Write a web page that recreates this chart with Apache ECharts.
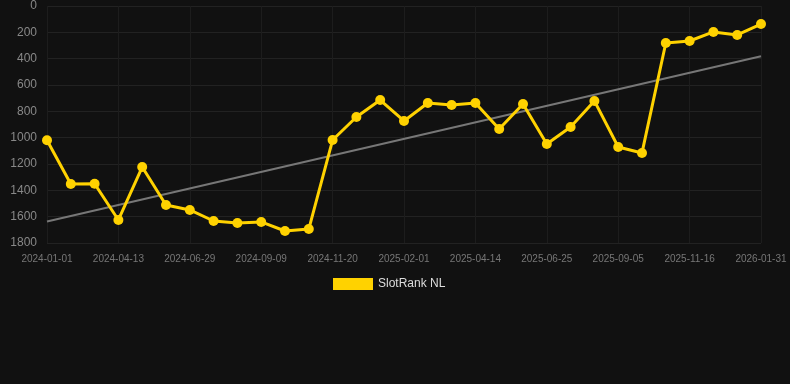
<!DOCTYPE html>
<html>
<head>
<meta charset="utf-8">
<script src="https://cdn.jsdelivr.net/npm/echarts@6/dist/echarts.min.js"></script>
<style>
html,body{margin:0;padding:0;background:#111111;}
#chart{width:790px;height:384px;}
</style>
</head>
<body>
<div id="chart"></div>
<script>
const categories = [
  '2024-01-01','2024-02-04','2024-03-09','2024-04-13','2024-05-08','2024-06-03',
  '2024-06-29','2024-07-23','2024-08-16','2024-09-09','2024-10-03','2024-10-27',
  '2024-11-20','2024-12-14','2025-01-08','2025-02-01','2025-02-25','2025-03-21',
  '2025-04-14','2025-05-08','2025-06-01','2025-06-25','2025-07-19','2025-08-12',
  '2025-09-05','2025-09-29','2025-10-23','2025-11-16','2025-12-11','2026-01-06',
  '2026-01-31'
];
const rankValues = [
  1020, 1352, 1350, 1625, 1223, 1511,
  1549, 1633, 1648, 1640, 1709, 1694,
  1018, 843, 714, 873, 737, 752,
  737, 934, 744, 1048, 919, 721,
  1071, 1116, 281, 266, 197, 220,
  137
];
const yTicks = [0, 200, 400, 600, 800, 1000, 1200, 1400, 1600, 1800];
const seriesName = 'SlotRank NL';

// least-squares trend line from the data
const n = rankValues.length;
let sx = 0, sy = 0, sxy = 0, sxx = 0;
rankValues.forEach((v, i) => { sx += i; sy += v; sxy += i * v; sxx += i * i; });
const slope = (n * sxy - sx * sy) / (n * sxx - sx * sx);
const icpt = (sy - slope * sx) / n;
const trend = rankValues.map((v, i) => (i === 0 || i === n - 1) ? icpt + slope * i : null);

const chart = echarts.init(document.getElementById('chart'), null, {renderer: 'canvas'});
chart.setOption({
  backgroundColor: '#111111',
  animation: false,
  grid: {left: 47, right: 29, top: 6, bottom: 141, containLabel: false},
  legend: {
    data: [seriesName],
    top: 273,
    left: 328,
    itemWidth: 40,
    itemHeight: 12,
    itemGap: 6,
    icon: 'rect',
    textStyle: {color: '#dddddd', fontSize: 12, fontFamily: 'Arial, Liberation Sans, sans-serif'}
  },
  xAxis: {
    type: 'category',
    data: categories,
    boundaryGap: false,
    position: 'bottom',
    axisLine: {show: false, onZero: false},
    axisTick: {show: false},
    axisLabel: {interval: 2, color: '#777777', fontSize: 10, margin: 11, fontFamily: 'Arial, Liberation Sans, sans-serif'},
    splitLine: {show: true, interval: 2, lineStyle: {color: '#1d1d1d', width: 1}}
  },
  yAxis: {
    type: 'value',
    inverse: true,
    min: yTicks[0],
    max: yTicks[yTicks.length - 1],
    interval: 200,
    axisLine: {show: false},
    axisTick: {show: false},
    axisLabel: {
      color: '#888888', fontSize: 12, margin: 10,
      fontFamily: 'Arial, Liberation Sans, sans-serif',
      formatter: v => String(v)
    },
    splitLine: {show: true, lineStyle: {color: '#222222', width: 1}}
  },
  series: [
    {
      name: seriesName,
      type: 'line',
      data: rankValues,
      symbol: 'circle',
      symbolSize: 10,
      lineStyle: {color: '#ffd200', width: 3},
      itemStyle: {color: '#ffd200'},
      z: 3
    },
    {
      name: 'trend',
      type: 'line',
      data: trend,
      connectNulls: true,
      symbol: 'none',
      lineStyle: {color: '#777777', width: 2},
      itemStyle: {color: '#777777'},
      z: 2
    }
  ]
});
</script>
</body>
</html>
